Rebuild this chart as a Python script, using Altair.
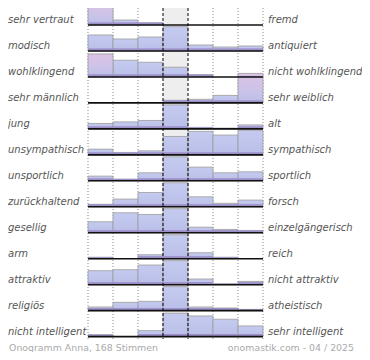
import altair as alt
import pandas as pd

# ---- data ----
left_labels = ["sehr vertraut", "modisch", "wohlklingend", "sehr männlich", "jung",
               "unsympathisch", "unsportlich", "zurückhaltend", "gesellig", "arm",
               "attraktiv", "religiös", "nicht intelligent"]
right_labels = ["fremd", "antiquiert", "nicht wohlklingend", "sehr weiblich", "alt",
                "sympathisch", "sportlich", "forsch", "einzelgängerisch", "reich",
                "nicht attraktiv", "atheistisch", "sehr intelligent"]

# bar heights per scale step (1 = left pole ... 7 = right pole), one value per row
stufe_1 = [24, 16, 23, 0, 5.4, 5.7, 4.7, 2.5, 11, 1.5, 14, 3.7, 2]
stufe_2 = [5, 12, 16.7, 0, 7, 2.4, 1.8, 7.7, 20, 0, 15, 8.3, 0]
stufe_3 = [2.3, 14, 14.7, 0, 8.4, 4, 8, 14.3, 18.3, 4, 19.7, 9.3, 6]
stufe_4 = [0, 24.3, 9.7, 2.6, 24, 18.4, 24, 24, 24, 24, 24, 24, 23.4]
stufe_5 = [0, 6, 2.3, 3.6, 1.5, 23.5, 13.7, 10, 5.6, 6, 5.7, 3.7, 20.7]
stufe_6 = [0, 4, 0, 7.5, 0.8, 19.8, 8, 3.5, 3.3, 1.5, 1, 2.7, 17.4]
stufe_7 = [0, 5, 1, 29.5, 4, 24.5, 9, 6.7, 2.3, 0, 3.3, 1.3, 10.7]
stufen = [stufe_1, stufe_2, stufe_3, stufe_4, stufe_5, stufe_6, stufe_7]

footer_left = "Onogramm Anna, 168 Stimmen"
footer_right = "onomastik.com - 04 / 2025"

# ---- layout (style only) ----
ROW_FIRST = 25.0
ROW_STEP = 25.97
TOP = 8  # first visible reference row of pixels (page margin)
PINK = {(0, 0), (2, 0), (3, 6)}

recs = []
for c, serie in enumerate(stufen):
    for r, v in enumerate(serie):
        recs.append({"row": r, "col": c, "v": v})
df = pd.DataFrame(recs)
df["base"] = ROW_FIRST + ROW_STEP * df["row"]
df["top"] = df["base"] - df["v"]
df["x2"] = df["col"] + 1
df["bt"] = df["base"] - df["v"].clip(upper=2.6)
df["pink"] = [1 if (r, c) in PINK else 0 for r, c in zip(df["row"], df["col"])]
df = df[df["v"] > 0]

lab = pd.DataFrame({"row": range(len(left_labels)), "left": left_labels, "right": right_labels})
lab["base"] = ROW_FIRST + ROW_STEP * lab["row"]
lab["x0"] = 0
lab["x7"] = 7

W, H = 354, 344
xs = alt.Scale(domain=[-3.2, (W - 80) / 25], nice=False, zero=False)
ys = alt.Scale(domain=[TOP, TOP + H], reverse=True, nice=False, zero=False)

bg = alt.Chart(pd.DataFrame({"a": [3], "b": [4]})).mark_rect(color="#eeeeee").encode(
    x=alt.X("a:Q", scale=xs, axis=None), x2="b:Q",
    y=alt.value(0), y2=alt.value(337 - TOP))

dots = alt.Chart(pd.DataFrame({"a": [0, 1, 2, 5, 6, 7]})).mark_rule(
    color="#8a8a8a", strokeDash=[1, 2], strokeWidth=1).encode(
    x=alt.X("a:Q", scale=xs, axis=None), y=alt.value(0), y2=alt.value(339 - TOP))

pink_grad = alt.Gradient(gradient="linear", x1=0, x2=0, y1=0, y2=1, stops=[
    alt.GradientStop(color="#dcc2e4", offset=0),
    alt.GradientStop(color="#cdc3e8", offset=0.55),
    alt.GradientStop(color="#b9bfe8", offset=1)])
blue_grad = alt.Gradient(gradient="linear", x1=0, x2=0, y1=0, y2=1, stops=[
    alt.GradientStop(color="#c5cbef", offset=0),
    alt.GradientStop(color="#b8bee8", offset=1)])

def bars(grad, flag):
    return alt.Chart(df).transform_filter(f"datum.pink == {flag}").mark_rect(
        color=grad, stroke="#9c9c9c", strokeWidth=0.8).encode(
        x=alt.X("col:Q", scale=xs, axis=None), x2="x2:Q",
        y=alt.Y("top:Q", scale=ys, axis=None), y2="base:Q")

band = alt.Chart(df).mark_rect(color="#9d90c8").encode(
    x=alt.X("col:Q", scale=xs, axis=None), x2="x2:Q",
    y=alt.Y("bt:Q", scale=ys, axis=None), y2="base:Q")

baselines = alt.Chart(lab).mark_rule(color="#111111", strokeWidth=1.6).encode(
    x=alt.X("x0:Q", scale=xs, axis=None), x2="x7:Q",
    y=alt.Y("base:Q", scale=ys, axis=None))

dashes = alt.Chart(pd.DataFrame({"a": [3, 4]})).mark_rule(
    color="#000000", strokeDash=[3, 2], strokeWidth=1).encode(
    x=alt.X("a:Q", scale=xs, axis=None), y=alt.value(0), y2=alt.value(339 - TOP))

txt = dict(font="DejaVu Sans", fontStyle="italic", fontSize=10, color="#555555",
           baseline="alphabetic", dy=-2, align="left")
left_t = alt.Chart(lab).mark_text(**txt).encode(
    x=alt.value(0), y=alt.Y("base:Q", scale=ys, axis=None), text="left:N")
right_t = alt.Chart(lab).mark_text(**txt).encode(
    x=alt.value(260), y=alt.Y("base:Q", scale=ys, axis=None), text="right:N")

foot = pd.DataFrame({"l": [footer_left], "r": [footer_right]})
foot_l = alt.Chart(foot).mark_text(font="DejaVu Sans", fontSize=9.4, color="#aaaaaa",
                                   align="left", baseline="alphabetic").encode(
    x=alt.value(1), y=alt.value(350.5 - TOP), text="l:N")
foot_r = alt.Chart(foot).mark_text(font="DejaVu Sans", fontSize=9.4, color="#aaaaaa",
                                   align="right", baseline="alphabetic").encode(
    x=alt.value(346), y=alt.value(350.5 - TOP), text="r:N")

chart = alt.layer(bg, dots, bars(blue_grad, 0), bars(pink_grad, 1), band, baselines,
                  dashes, left_t, right_t, foot_l, foot_r).properties(
    width=W, height=H, autosize="none", padding=0,
    background="white"
).configure_view(stroke=None)

chart.save("out.html", embed_options={"renderer": "svg", "actions": False})
